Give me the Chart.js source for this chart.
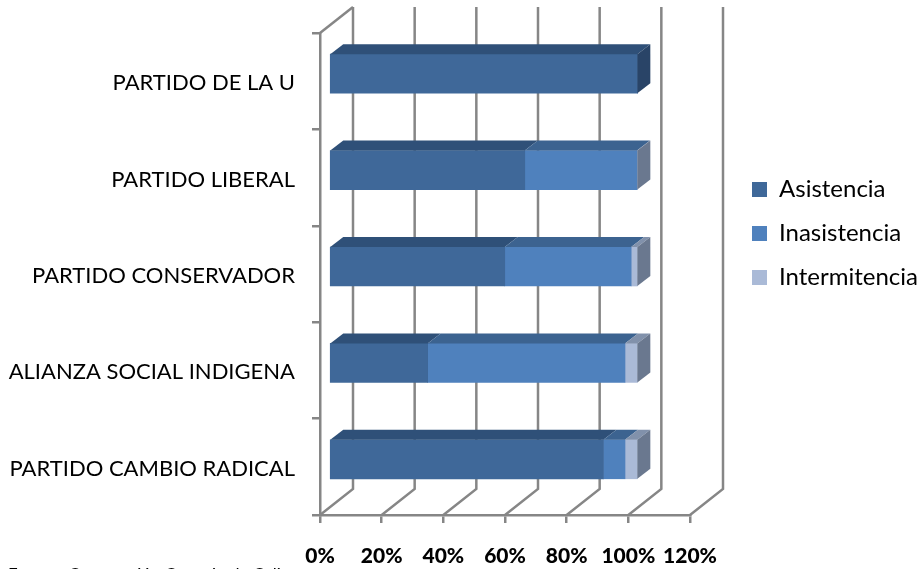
<!DOCTYPE html>
<html>
<head>
<meta charset="utf-8">
<style>
  html, body { margin: 0; padding: 0; background: #fff; overflow: hidden; }
  #wrap { width: 921px; height: 569px; }
</style>
<script src="https://cdn.jsdelivr.net/npm/chart.js@4"></script>
</head>
<body>
<div id="wrap"><canvas id="chart"></canvas></div>
<script>
const categories = ["PARTIDO DE LA U", "PARTIDO LIBERAL", "PARTIDO CONSERVADOR", "ALIANZA SOCIAL INDIGENA", "PARTIDO CAMBIO RADICAL"];
const asistencia = [100, 63.5, 57, 32, 89];
const inasistencia = [0, 36.4, 41, 64, 7];
const intermitencia = [0, 0.1, 2, 4, 4];
const xTicks = [0, 20, 40, 60, 80, 100, 120];

const GRID = "#868686";
const FONT = "Lato, 'Open Sans', sans-serif";

const seriesStyles = [
  { front: "#3F6899", top: "#2F5078", side: "#294467" },
  { front: "#4F81BD", top: "#3C6390", side: "#5B6F8C" },
  { front: "#AABAD7", top: "#8191AB", side: "#6A788F" }
];

// how far the bars sit in front of the walls, and how deep they are
const barShift = { x: 9, y: -7.5 };
const barDepth = { x: 13, y: -10 };
const wallDepth = { x: 33, y: -26 };

function line(ctx, x1, y1, x2, y2, x3, y3) {
  ctx.beginPath();
  ctx.moveTo(x1, y1);
  ctx.lineTo(x2, y2);
  if (x3 !== undefined) ctx.lineTo(x3, y3);
  ctx.stroke();
}

function poly(ctx, pts, color) {
  ctx.fillStyle = color;
  ctx.beginPath();
  pts.forEach((p, i) => i ? ctx.lineTo(p[0], p[1]) : ctx.moveTo(p[0], p[1]));
  ctx.closePath();
  ctx.fill();
}

// back wall and floor, the 3D look is not something Chart.js does by itself
const wallsPlugin = {
  id: "walls",
  beforeDatasetsDraw(chart) {
    const { ctx, chartArea, scales } = chart;
    ctx.save();
    ctx.strokeStyle = GRID;
    ctx.lineWidth = 2.5;
    xTicks.forEach(v => {
      const px = scales.x.getPixelForValue(v);
      line(ctx, px, chartArea.bottom, px + wallDepth.x, chartArea.bottom + wallDepth.y, px + wallDepth.x, chartArea.top + wallDepth.y);
    });
    const left = scales.x.getPixelForValue(0);
    line(ctx, left, chartArea.top, left + wallDepth.x, chartArea.top + wallDepth.y);
    ctx.restore();

    ctx.save();
    ctx.translate(barShift.x, barShift.y);
  },
  afterDatasetsDraw(chart) {
    const { ctx } = chart;
    categories.forEach((c, row) => {
      let lastSeries = 0;
      let rowEnd = null;
      chart.data.datasets.forEach((ds, i) => {
        if (ds.data[row] <= 0) return;
        const bar = chart.getDatasetMeta(i).data[row];
        const top = bar.y - bar.height / 2;
        poly(ctx, [
          [bar.base, top],
          [bar.base + barDepth.x, top + barDepth.y],
          [bar.x + barDepth.x, top + barDepth.y],
          [bar.x, top]
        ], seriesStyles[i].top);
        lastSeries = i;
        rowEnd = bar;
      });
      const top = rowEnd.y - rowEnd.height / 2;
      const bottom = rowEnd.y + rowEnd.height / 2;
      poly(ctx, [
        [rowEnd.x, top],
        [rowEnd.x + barDepth.x, top + barDepth.y],
        [rowEnd.x + barDepth.x, bottom + barDepth.y],
        [rowEnd.x, bottom]
      ], seriesStyles[lastSeries].side);
    });
    ctx.restore();
  },
  afterLayout(chart) {
    // legend sits higher than the plot centre in the reference
    chart.legend.top = 150;
    chart.legend.bottom = 317;
    chart.legend.left = 732;
    chart.legend.right = 921;
  },
  afterDraw(chart) {
    const { ctx } = chart;
    ctx.save();
    ctx.fillStyle = "#000";
    ctx.font = "17px " + FONT;
    ctx.textBaseline = "top";
    ctx.fillText("Fuente: Corporación Concejo de Cali", 8, 567);
    ctx.restore();
  }
};

new Chart(document.getElementById("chart"), {
  type: "bar",
  data: {
    labels: categories,
    datasets: [
      { label: "Asistencia", data: asistencia, backgroundColor: seriesStyles[0].front },
      { label: "Inasistencia", data: inasistencia, backgroundColor: seriesStyles[1].front },
      { label: "Intermitencia", data: intermitencia, backgroundColor: seriesStyles[2].front }
    ]
  },
  options: {
    indexAxis: "y",
    responsive: true,
    maintainAspectRatio: false,
    animation: false,
    layout: { padding: { top: 33 } },
    datasets: { bar: { barThickness: 39, clip: false } },
    scales: {
      x: {
        stacked: true,
        min: 0,
        max: 120,
        afterFit: s => { s.height = 54; s.paddingRight = 231; },
        afterBuildTicks: s => { s.ticks = xTicks.map(v => ({ value: v })); },
        grid: { drawOnChartArea: false, color: GRID, lineWidth: 2.5, tickLength: 8 },
        border: { color: GRID, width: 2.5 },
        ticks: {
          color: "#000",
          padding: 21,
          maxRotation: 0,
          font: { family: FONT, size: 21, weight: "900" },
          callback: v => v + "%"
        }
      },
      y: {
        stacked: true,
        afterFit: s => { s.width = 320; },
        grid: { drawOnChartArea: false, color: GRID, lineWidth: 2.5, tickLength: 8 },
        border: { color: GRID, width: 2.5 },
        ticks: { color: "#000", padding: 17, labelOffset: 2, font: { family: FONT, size: 22 } }
      }
    },
    plugins: {
      tooltip: { enabled: false },
      title: { display: false },
      legend: {
        position: "right",
        labels: {
          color: "#000",
          boxWidth: 15,
          boxHeight: 15,
          padding: 20,
          font: { family: FONT, size: 24 }
        }
      }
    }
  },
  plugins: [wallsPlugin]
});
</script>
</body>
</html>
